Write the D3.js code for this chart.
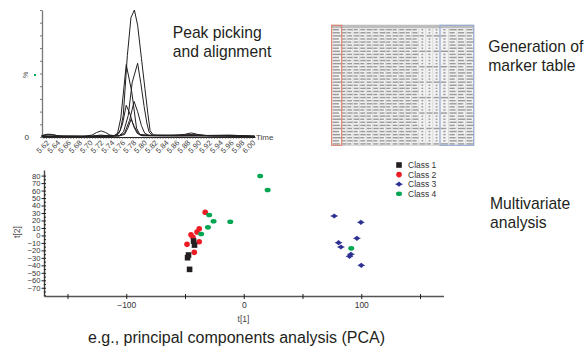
<!DOCTYPE html>
<html>
<head>
<meta charset="utf-8">
<script src="https://cdn.jsdelivr.net/npm/d3@7"></script>
<style>
  body { margin: 0; background: #fff; }
  svg { display: block; font-family: "Liberation Sans", Arial, sans-serif; }
</style>
</head>
<body>
<div id="chart"></div>
<script>
// chromatogram tick labels (retention time, min)
const timeTicks = [5.62, 5.64, 5.66, 5.68, 5.70, 5.72, 5.74, 5.76, 5.78, 5.80,
                   5.82, 5.84, 5.86, 5.88, 5.90, 5.92, 5.94, 5.96, 5.98, 6.00];

// overlaid traces, [time, %]
const traceA = [[5.612,1.2],[5.625,1.8],[5.635,1.5],[5.65,0.6],[5.70,0.5],[5.74,0.8],[5.750,1.5],[5.757,5],[5.7625,17],[5.770,64],[5.7767,94],[5.783,100],[5.789,88],[5.796,62],[5.8025,38],[5.808,18],[5.812,5],[5.818,1.5],[5.85,1.2],[5.89,1.5],[5.93,1],[5.97,0.8],[6.005,0.5]];
const traceB = [[5.612,0.8],[5.65,0.5],[5.70,0.6],[5.745,0.8],[5.752,3],[5.758,15],[5.764,40],[5.768,57],[5.778,36],[5.787,7],[5.793,2],[5.82,1.2],[5.86,1.5],[5.875,2],[5.888,3.2],[5.90,2],[5.92,1],[5.955,1.2],[6.005,0.6]];
const traceC = [[5.612,0.5],[5.68,0.4],[5.74,0.5],[5.755,1],[5.763,4],[5.7717,17],[5.779,43],[5.789,58],[5.795,42],[5.801,24],[5.806,11],[5.81,4],[5.816,1.5],[5.86,1],[5.92,0.8],[6.005,0.5]];
const traceD = [[5.612,0.6],[5.69,0.6],[5.705,1.5],[5.713,3.5],[5.722,4.8],[5.73,3.5],[5.738,1.5],[5.748,1],[5.754,2.5],[5.761,10],[5.768,25],[5.775,18],[5.782,8],[5.788,3],[5.795,1.2],[5.85,1],[5.95,1.2],[6.005,0.6]];
const traceE = [[5.612,1],[5.622,2.2],[5.632,2],[5.642,0.8],[5.70,0.5],[5.73,0.8],[5.755,1],[5.765,3],[5.774,13],[5.7825,28],[5.789,20],[5.796,9],[5.802,3],[5.81,1.2],[5.87,1.5],[5.89,2],[5.91,1.2],[5.96,1.5],[6.005,0.5]];
const traceF = [[5.612,0.4],[5.70,0.4],[5.72,1.5],[5.735,1],[5.755,0.8],[5.765,2],[5.771,7],[5.777,14],[5.783,8],[5.79,3],[5.797,1],[5.84,0.8],[5.90,1],[6.005,0.4]];

// PCA scores, [t1, t2]
const classNames = ["Class 1", "Class 2", "Class 3", "Class 4"];
const class1 = [[-42.7,-7.5],[-41.9,-12.9],[-47.0,-26.2],[-47.8,-29.8],[-46.1,-45.4]];
const class2 = [[-32.8,30.9],[-37.9,9.0],[-39.8,4.6],[-44.9,1.0],[-43.2,-2.6],[-48.3,-11.9],[-37.9,-8.4],[-42.1,-22.6]];
const class3 = [[77.0,26.0],[99.7,17.5],[96.3,-3.9],[80.7,-9.7],[82.7,-15.5],[91.2,-25.3],[90.0,-28.0],[100.0,-40.0]];
const class4 = [[14.0,79.5],[20.3,60.8],[-29.4,27.3],[-25.7,18.9],[-11.5,18.3],[-30.5,10.8],[-36.2,1.9],[91.5,-17.3]];
const pcaXTicks = [-100, 0, 100];
const pcaYTicks = [80, 70, 60, 50, 40, 30, 20, 10, 0, -10, -20, -30, -40, -50, -60, -70];

const width = 588, height = 347;
const ink = "#231f20";

const svg = d3.select("#chart").append("svg")
    .attr("width", width)
    .attr("height", height);

svg.append("rect").attr("width", width).attr("height", height).attr("fill", "#fff");

// ---------- chromatogram ----------
const xC = d3.scaleLinear().domain([5.6126, 6.0055]).range([42, 255]);
const yC = d3.scaleLinear().domain([0, 100]).range([137, 10]);

svg.append("g")
    .attr("transform", "translate(42,0)")
    .call(d3.axisLeft(yC).tickValues(d3.range(0, 101, 10)).tickSize(2).tickSizeOuter(0).tickFormat(""))
    .call(g => g.select(".domain").attr("stroke", "#777").attr("stroke-width", 1.3))
    .call(g => g.selectAll(".tick line").attr("stroke", "#777"));

svg.append("g")
    .attr("transform", "translate(0,137)")
    .call(d3.axisBottom(xC).tickValues(d3.range(5.615, 6.004, 0.005)).tickSize(2).tickSizeOuter(0).tickFormat(""))
    .call(g => g.select(".domain").attr("stroke", ink))
    .call(g => g.selectAll(".tick line").attr("stroke", "#444").attr("stroke-width", 0.6));

// rotated time labels
svg.append("g")
    .selectAll("text")
    .data(timeTicks)
    .join("text")
    .attr("transform", d => `translate(${xC(d) + 2},141.5) rotate(-45)`)
    .attr("text-anchor", "end")
    .attr("dy", "0.35em")
    .attr("font-size", 7.5)
    .attr("fill", "#444")
    .text(d => d.toFixed(2));

const line = d3.line().x(d => xC(d[0])).y(d => yC(d[1]));
svg.append("g")
    .selectAll("path")
    .data([traceD, traceF, traceE, traceB, traceC, traceA])
    .join("path")
    .attr("d", line)
    .attr("fill", "none")
    .attr("stroke", ink)
    .attr("stroke-width", 1)
    .attr("stroke-linejoin", "round");

svg.append("text").attr("x", 256).attr("y", 137).attr("dy", "0.35em")
    .attr("font-size", 8).attr("fill", "#444").text("Time");
svg.append("text").attr("x", 29).attr("y", 137).attr("dy", "0.35em").attr("text-anchor", "end")
    .attr("font-size", 8).attr("fill", "#333").text("0");
svg.append("text").attr("transform", "translate(26,75) rotate(-90)").attr("text-anchor", "middle")
    .attr("dy", "0.35em").attr("font-size", 7).attr("fill", "#555").text("%");
svg.append("rect").attr("x", 34).attr("y", 74).attr("width", 2).attr("height", 2).attr("fill", "#00a651");

// ---------- marker table thumbnail ----------
const tab = svg.append("g");
const tx0 = 331.5, ty0 = 25, tx1 = 474, ty1 = 145.5;
const headerH = 3.2;
const nRows = 38;
const colEdges = [331.5, 341.5, 346.5];
for (let i = 1; i <= 10; i++) colEdges.push(346.5 + i * 6.5);
for (let i = 1; i <= 4; i++) colEdges.push(411.5 + i * 7.1);
for (let i = 1; i <= 4; i++) colEdges.push(440 + i * 8.5);
const rowH = (ty1 - ty0 - headerH) / nRows;

tab.append("rect").attr("x", tx0).attr("y", ty0).attr("width", tx1 - tx0).attr("height", ty1 - ty0)
    .attr("fill", "#f2f2f2").attr("stroke", "#bbb").attr("stroke-width", 0.5);
tab.append("rect").attr("x", tx0).attr("y", ty0).attr("width", tx1 - tx0).attr("height", headerH)
    .attr("fill", "#bdbdbd");
tab.selectAll("line.col")
    .data(colEdges.slice(1, -1))
    .join("line")
    .attr("x1", d => d).attr("x2", d => d).attr("y1", ty0).attr("y2", ty1)
    .attr("stroke", "#c4c4c4").attr("stroke-width", 0.5);
const cells = [];
for (let r = 0; r < nRows; r++) {
    for (let c = 0; c < colEdges.length - 1; c++) {
        const w = colEdges[c + 1] - colEdges[c];
        const y = ty0 + headerH + r * rowH + 0.8;
        if (c >= 13 && c < 17 && (r % 5 !== 2)) { cells.push({ x: colEdges[c] + w * 0.4, y, w: w * 0.25 }); continue; }
        cells.push({ x: colEdges[c] + w * 0.12, y, w: w * (0.62 + ((r + c) % 3) * 0.1) });
    }
}
tab.selectAll("rect.cell")
    .data(cells)
    .join("rect")
    .attr("x", d => d.x).attr("y", d => d.y).attr("width", d => d.w).attr("height", 1.4)
    .attr("fill", "#9a9a9a");
tab.append("rect").attr("x", 331.7).attr("y", 25.3).attr("width", 10).attr("height", 120)
    .attr("fill", "none").attr("stroke", "#e07a64").attr("stroke-width", 1);
tab.append("rect").attr("x", 440).attr("y", 25.3).attr("width", 33.7).attr("height", 120)
    .attr("fill", "none").attr("stroke", "#8ea9d4").attr("stroke-width", 1);

// ---------- PCA score plot ----------
const xP = d3.scaleLinear().domain([-170, 170]).range([44, 443.5]);
const yP = d3.scaleLinear().domain([-81, 87.5]).range([296, 170]);

svg.append("g")
    .attr("transform", "translate(44,0)")
    .call(d3.axisLeft(yP).tickValues(pcaYTicks).tickSize(2.5).tickPadding(1).tickSizeOuter(0)
        .tickFormat(d3.format("d")))
    .call(g => g.select(".domain").attr("stroke", "#444").attr("stroke-width", 1.4))
    .call(g => g.selectAll(".tick line").attr("stroke", ink))
    .call(g => g.selectAll("text").attr("font-size", 7.6).attr("fill", "#333").attr("font-family", "Liberation Sans, Arial, sans-serif"));
svg.append("g")
    .attr("transform", "translate(44,0)")
    .call(d3.axisRight(yP).tickValues(d3.range(-80, 81, 5)).tickSize(2).tickSizeOuter(0).tickFormat(""))
    .call(g => g.select(".domain").remove())
    .call(g => g.selectAll(".tick line").attr("stroke", ink));

svg.append("g")
    .attr("transform", "translate(0,296)")
    .call(d3.axisBottom(xP).tickValues(d3.range(-150, 151, 50)).tickSize(3).tickPadding(3).tickSizeOuter(0)
        .tickFormat(d => pcaXTicks.includes(d) ? d3.format("d")(d) : ""))
    .call(g => g.select(".domain").attr("stroke", "#555").attr("stroke-width", 1.6))
    .call(g => g.selectAll(".tick line").attr("stroke", ink).attr("y1", -2))
    .call(g => g.selectAll("text").attr("font-size", 8.5).attr("fill", "#333").attr("font-family", "Liberation Sans, Arial, sans-serif"));

svg.append("text").attr("x", 243.5).attr("y", 322).attr("text-anchor", "middle")
    .attr("font-size", 8.5).attr("fill", "#444").text("t[1]");
svg.append("text").attr("transform", "translate(20,232) rotate(-90)").attr("text-anchor", "middle")
    .attr("font-size", 8.5).attr("fill", "#444").text("t[2]");

const colours = ["#231f20", "#ed1c24", "#2e3192", "#00a651"];
function marker(sel, cls) {
    if (cls === 0) {
        sel.append("rect").attr("x", -2.8).attr("y", -2.8).attr("width", 5.6).attr("height", 5.6).attr("fill", colours[0]);
    } else if (cls === 1) {
        sel.append("circle").attr("r", 2.8).attr("fill", colours[1]);
    } else if (cls === 2) {
        sel.append("path").attr("d", "M-3.2,0L0,-2.6L3.2,0L0,2.6Z").attr("fill", colours[2]);
        sel.append("path").attr("d", "M-3.6,0H3.6").attr("stroke", colours[2]).attr("stroke-width", 0.8);
    } else {
        sel.append("ellipse").attr("rx", 3).attr("ry", 2.3).attr("fill", colours[3]);
    }
}

const scoreSets = [[1, class2], [3, class4], [2, class3], [0, class1]];
scoreSets.forEach(([cls, pts]) => {
    svg.append("g")
        .selectAll("g")
        .data(pts)
        .join("g")
        .attr("transform", d => `translate(${xP(d[0])},${yP(d[1])})`)
        .each(function () { marker(d3.select(this), cls); });
});

// legend
const legend = svg.append("g")
    .selectAll("g")
    .data(classNames)
    .join("g")
    .attr("transform", (d, i) => `translate(399,${165 + i * 9.6})`);
legend.each(function (d, i) { marker(d3.select(this), i); });
legend.append("text").attr("x", 9).attr("dy", "0.35em").attr("font-size", 8.5).attr("fill", "#333").text(d => d);

// ---------- panel captions ----------
const captions = [
    { x: 172.7, y: 38, lines: ["Peak picking", "and alignment"] },
    { x: 488.3, y: 52, lines: ["Generation of", "marker table"] },
    { x: 490, y: 209.3, lines: ["Multivariate", "analysis"] }
];
captions.forEach(c => {
    svg.append("g").selectAll("text")
        .data(c.lines)
        .join("text")
        .attr("x", c.x)
        .attr("y", (d, i) => c.y + i * 19)
        .attr("font-size", 15.7)
        .attr("fill", ink)
        .text(d => d);
});

svg.append("text")
    .attr("x", 236.5).attr("y", 343)
    .attr("text-anchor", "middle")
    .attr("font-size", 16)
    .attr("fill", ink)
    .text("e.g., principal components analysis (PCA)");
</script>
</body>
</html>
